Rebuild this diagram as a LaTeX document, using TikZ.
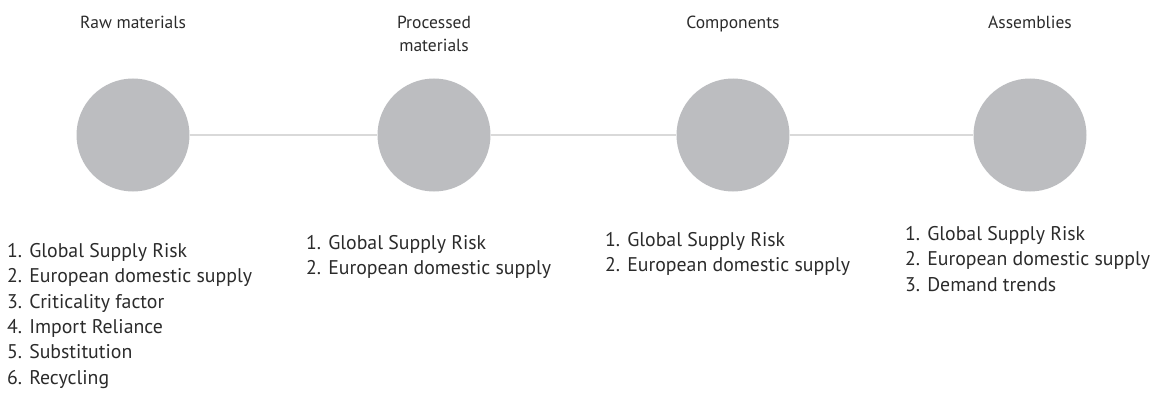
\documentclass[tikz,border=0pt]{standalone}
\usepackage{fontspec}
\setmainfont{PT Sans}
\usetikzlibrary{positioning}
\definecolor{dotgray}{HTML}{BCBDC0}
\definecolor{linegray}{HTML}{D9D9D9}
\definecolor{textgray}{HTML}{2B2B2B}
\begin{document}
\begin{tikzpicture}[x=1pt, y=-1pt,
  stage/.style={circle, fill=dotgray, minimum size=113pt, inner sep=0pt},
  title/.style={align=center, anchor=north, inner sep=0pt, text=textgray,
                font=\fontsize{17.5}{22.5}\selectfont},
  factors/.style={align=left, anchor=north west, inner sep=0pt, text=textgray,
                  font=\fontsize{19.8}{25.4}\selectfont},
  link/.style={draw=linegray, line width=2.5pt}
]
\useasboundingbox (0,0) rectangle (1152,412);
% stages of the chain
\node[stage] (raw) at (133,135) {};
\node[stage] (proc) at (434,135) {};
\node[stage] (comp) at (733,135) {};
\node[stage] (assy) at (1030,135) {};
\draw[link] (raw) -- (proc);
\draw[link] (proc) -- (comp);
\draw[link] (comp) -- (assy);
% headings
\node[title] (rawt) at (133,16) {Raw materials};
\node[title] (proct) at (434,16) {Processed\\materials};
\node[title] (compt) at (733,16) {Components};
\node[title] (assyt) at (1030,16) {Assemblies};
% indicators per stage
\node[factors] (rawl) at (7,243) {1. Global Supply Risk\\2. European domestic supply\\3. Criticality factor\\4. Import Reliance\\5. Substitution\\6. Recycling};
\node[factors] (procl) at (306,235) {1. Global Supply Risk\\2. European domestic supply};
\node[factors] (compl) at (605,232) {1. Global Supply Risk\\2. European domestic supply};
\node[factors] (assyl) at (905,226) {1. Global Supply Risk\\2. European domestic supply\\3. Demand trends};
\end{tikzpicture}
\end{document}
